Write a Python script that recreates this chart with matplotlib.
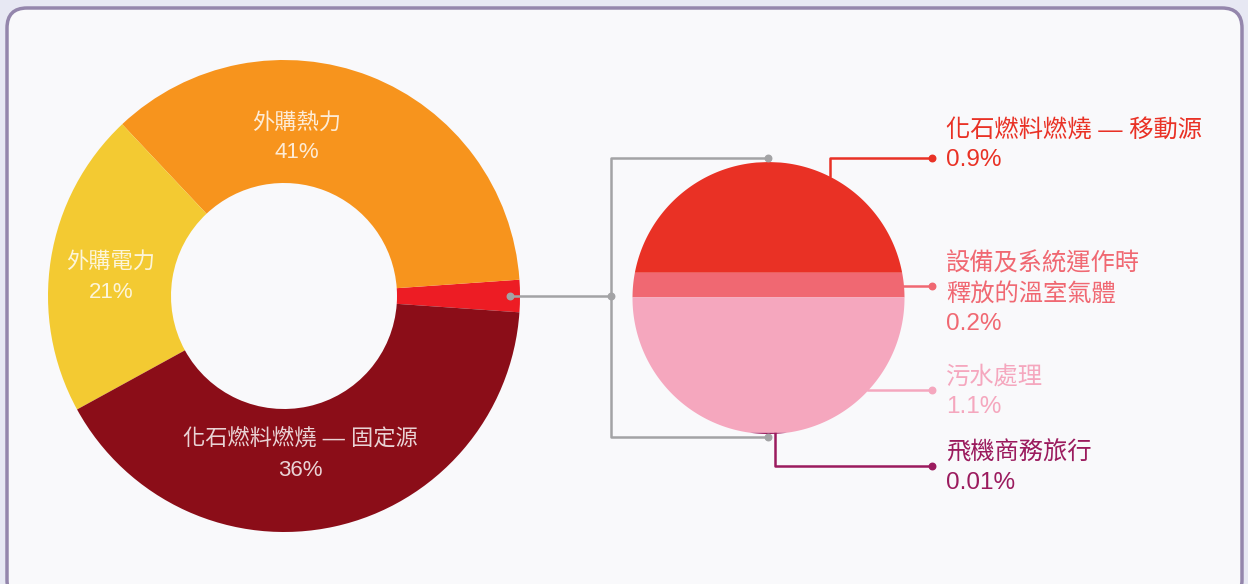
import numpy as np
import matplotlib
matplotlib.use('Agg')
import matplotlib.pyplot as plt
from matplotlib.patches import FancyBboxPatch

plt.rcParams['font.family'] = ['Liberation Sans', 'Noto Sans CJK TC', 'DejaVu Sans']

# donut: wedge sizes as drawn, counter-clockwise from the small red slice
donut_sizes = [2.21, 36, 21, 41]
donut_colors = ['#ED1C24', '#F7941D', '#F3CA32', '#8B0D18']
donut_text = ['', '外購熱力\n41%', '外購電力\n21%', '化石燃料燃燒 — 固定源\n36%']

# breakdown of the small slice, top to bottom
sub_names = ['化石燃料燃燒 — 移動源', '設備及系統運作時\n釋放的溫室氣體', '污水處理', '飛機商務旅行']
sub_values = [0.9, 0.2, 1.1, 0.01]
sub_pct = ['0.9%', '0.2%', '1.1%', '0.01%']
sub_colors = ['#E93125', '#F06872', '#F5A7BE', '#9B1B5E']

W, H = 1248, 584
fig = plt.figure(figsize=(W / 100, H / 100), dpi=100, facecolor='#E7E8F3')
ax = fig.add_axes([0, 0, 1, 1])

def Y(y):  # pixel row -> data y
    return H - y

# panel
panel = FancyBboxPatch((7, Y(600)), 1235, 592, boxstyle='round,pad=0,rounding_size=20',
                       fc='#F9F9FB', ec='#9486AC', lw=2.5, zorder=0)
ax.add_patch(panel)

# donut
cx, cy, R = 284, Y(296), 236
start = -donut_sizes[0] / sum(donut_sizes) * 360 / 2
ax.pie(donut_sizes, colors=donut_colors, startangle=start, counterclock=True,
       radius=R, center=(cx, cy), wedgeprops=dict(width=R - 113, lw=0), frame=True)

txt_kw = dict(color='white', alpha=0.82, fontsize=16, ha='center', va='center', weight='light')
donut_pos = [None, (297, 123), (111, 262), (300, 440)]
for t, p in zip(donut_text, donut_pos):
    if p is None:
        continue
    for k, line in enumerate(t.split('\n')):
        ax.text(p[0], Y(p[1] + 30 * k), line, **txt_kw)

# right circle split in horizontal bands, band height proportional to value
ccx, ccy, r = 768, Y(297.5), 136
cum = np.cumsum([0] + sub_values) / sum(sub_values)
for i in range(len(sub_values)):
    yy = np.linspace(ccy + r - 2 * r * cum[i], ccy + r - 2 * r * cum[i + 1], 200)
    half = np.sqrt(np.clip(r * r - (yy - ccy) ** 2, 0, None))
    ax.fill_betweenx(yy, ccx - half, ccx + half, color=sub_colors[i], lw=0, zorder=2)

# gray bracket
gray = '#A3A3A5'
ax.plot([510, 611], [cy, cy], color=gray, lw=1.8, zorder=3)
ax.plot([768, 611, 611, 768], [Y(158), Y(158), Y(437), Y(437)], color=gray, lw=1.8, zorder=1)
ax.scatter([510, 611, 768, 768], [cy, cy, Y(158), Y(437)], s=22, color=gray, zorder=4)

# leaders
def edge_x(y):
    return ccx + np.sqrt(max(r * r - (y - ccy) ** 2, 0))

dot_x = 932
lead = [
    ([830, 830, dot_x], [Y(176), Y(158), Y(158)]),
    ([edge_x(Y(286)), dot_x], [Y(286), Y(286)]),
    ([edge_x(Y(390)), dot_x], [Y(390), Y(390)]),
    ([775, 775, dot_x], [Y(433), Y(466), Y(466)]),
]
label_top = [130, 264, 377, 453]
for i, (xs, ys) in enumerate(lead):
    c = sub_colors[i]
    ax.plot(xs, ys, color=c, lw=1.8, zorder=1)
    ax.scatter([xs[-1]], [ys[-1]], s=22, color=c, zorder=4)
    lines = sub_names[i].split('\n') + [sub_pct[i]]
    for k, line in enumerate(lines):
        ax.text(946, Y(label_top[i] + 30 * k), line, color=c, fontsize=17.5,
                ha='left', va='center')

ax.set_xlim(0, W)
ax.set_ylim(0, H)
ax.set_aspect('equal')
ax.axis('off')
fig.savefig('out.png', dpi=100, facecolor=fig.get_facecolor())
